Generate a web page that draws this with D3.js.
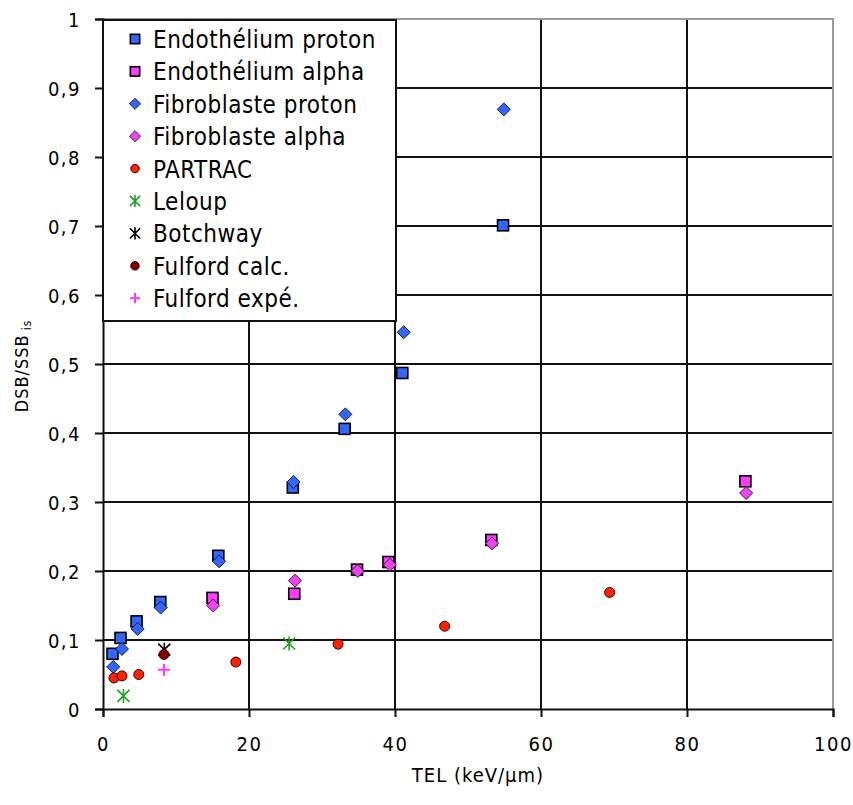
<!DOCTYPE html>
<html>
<head>
<meta charset="utf-8">
<script src="https://cdn.jsdelivr.net/npm/d3@7"></script>
<style>
  html, body { margin: 0; padding: 0; background: #fff; }
  svg { display: block; }
  text { font-family: "DejaVu Sans Condensed", "DejaVu Sans", sans-serif; fill: #000; }
</style>
</head>
<body>
<svg id="chart" width="853" height="805"></svg>
<script>
// ---------- data ----------
const xTicks = [0, 20, 40, 60, 80, 100];
const yTicks = [0, 0.1, 0.2, 0.3, 0.4, 0.5, 0.6, 0.7, 0.8, 0.9, 1];
const yTickLabels = ["0", "0,1", "0,2", "0,3", "0,4", "0,5", "0,6", "0,7", "0,8", "0,9", "1"];
const xTickLabels = ["0", "20", "40", "60", "80", "100"];

const endoProtonX = [1.3, 2.4, 4.6, 7.85, 15.8, 26.0, 33.1, 41.0, 54.8];
const endoProtonY = [0.080, 0.103, 0.127, 0.155, 0.222, 0.321, 0.406, 0.487, 0.701];

const endoAlphaX = [15.0, 26.2, 34.8, 39.1, 53.2, 88.0];
const endoAlphaY = [0.161, 0.167, 0.202, 0.213, 0.245, 0.330];

const fibroProtonX = [1.4, 2.6, 4.75, 7.9, 15.9, 26.1, 33.2, 41.2, 54.9];
const fibroProtonY = [0.061, 0.087, 0.116, 0.147, 0.214, 0.329, 0.427, 0.546, 0.869];

const fibroAlphaX = [15.1, 26.3, 34.9, 39.3, 53.3, 88.1];
const fibroAlphaY = [0.150, 0.186, 0.200, 0.209, 0.240, 0.313];

const partracX = [1.5, 2.6, 4.9, 18.2, 32.2, 46.8, 69.4];
const partracY = [0.045, 0.048, 0.050, 0.068, 0.094, 0.120, 0.169];

const leloupX = [2.8, 25.5];
const leloupY = [0.019, 0.095];

const botchwayX = [8.4];
const botchwayY = [0.086];

const fulfordCalcX = [8.35];
const fulfordCalcY = [0.079];

const fulfordExpX = [8.35];
const fulfordExpY = [0.057];

const seriesNames = ["Endothélium proton", "Endothélium alpha", "Fibroblaste proton", "Fibroblaste alpha",
  "PARTRAC", "Leloup", "Botchway", "Fulford calc.", "Fulford expé."];

// ---------- styles ----------
const series = [
  { name: seriesNames[0], xs: endoProtonX, ys: endoProtonY, shape: "square", fill: "#3366ff", stroke: "#000" },
  { name: seriesNames[1], xs: endoAlphaX, ys: endoAlphaY, shape: "square", fill: "#ff3cff", stroke: "#000" },
  { name: seriesNames[2], xs: fibroProtonX, ys: fibroProtonY, shape: "diamond", fill: "#3366ff", stroke: "#1a1a40" },
  { name: seriesNames[3], xs: fibroAlphaX, ys: fibroAlphaY, shape: "diamond", fill: "#ee44ee", stroke: "#401a40" },
  { name: seriesNames[4], xs: partracX, ys: partracY, shape: "circle", fill: "#ff2200", stroke: "#300" },
  { name: seriesNames[5], xs: leloupX, ys: leloupY, shape: "star", fill: "none", stroke: "#22a022" },
  { name: seriesNames[6], xs: botchwayX, ys: botchwayY, shape: "star", fill: "none", stroke: "#000" },
  { name: seriesNames[7], xs: fulfordCalcX, ys: fulfordCalcY, shape: "circle", fill: "#800000", stroke: "#300" },
  { name: seriesNames[8], xs: fulfordExpX, ys: fulfordExpY, shape: "plus", fill: "none", stroke: "#ff33ff" }
];

const svg = d3.select("#chart");
const plot = { left: 103, right: 833, top: 19, bottom: 709 };

const x = d3.scaleLinear().domain([0, 100]).range([plot.left, plot.right]);
const y = d3.scaleLinear().domain([0, 1]).range([plot.bottom, plot.top]);

// grid
const grid = svg.append("g");
grid.selectAll("line.h").data(yTicks.filter(v => v > 0 && v < 1)).enter().append("line")
  .attr("x1", plot.left).attr("x2", plot.right)
  .attr("y1", d => y(d)).attr("y2", d => y(d))
  .attr("stroke", "#111").attr("stroke-width", 2);
grid.selectAll("line.v").data(xTicks.filter(v => v > 0 && v < 100)).enter().append("line")
  .attr("y1", plot.top).attr("y2", plot.bottom)
  .attr("x1", d => x(d)).attr("x2", d => x(d))
  .attr("stroke", "#111").attr("stroke-width", 2);

// plot border top/right (gray)
svg.append("path")
  .attr("d", `M${plot.left},${plot.top}H${plot.right}V${plot.bottom}`)
  .attr("fill", "none").attr("stroke", "#999").attr("stroke-width", 2);

// axes
const yAxis = d3.axisLeft(y).tickValues(yTicks).tickSize(8).tickFormat((d, i) => yTickLabels[i]);
const xAxis = d3.axisBottom(x).tickValues(xTicks).tickSize(8).tickFormat((d, i) => xTickLabels[i]);

const gy = svg.append("g").attr("transform", `translate(${plot.left},0)`).call(yAxis);
const gx = svg.append("g").attr("transform", `translate(0,${plot.bottom})`).call(xAxis);
[gx, gy].forEach(g => {
  g.select(".domain").attr("stroke", "#111").attr("stroke-width", 2);
  g.selectAll(".tick line").attr("stroke", "#111").attr("stroke-width", 2);
  g.selectAll(".tick text").attr("font-size", 20).attr("letter-spacing", 1.5)
    .attr("font-family", "'DejaVu Sans Condensed', 'DejaVu Sans', sans-serif").attr("fill", "#222");
});
gy.selectAll(".tick text").attr("x", -22).attr("dy", "0.36em");
gx.selectAll(".tick text").attr("y", 28).attr("dy", "0.71em");

// axis titles
svg.append("text").attr("x", (plot.left + plot.right) / 2 + 10).attr("y", 782)
  .attr("text-anchor", "middle").attr("font-size", 20).attr("letter-spacing", 1)
  .attr("fill", "#222").text("TEL (keV/µm)");

const yt = svg.append("text").attr("transform", `translate(28,366) rotate(-90)`)
  .attr("text-anchor", "middle").attr("font-size", 18).attr("letter-spacing", 1).attr("fill", "#222");
yt.append("tspan").text("DSB/SSB");
yt.append("tspan").attr("font-size", 12).attr("dx", 4).attr("dy", 3).text("is");

// marker drawing
function drawMarker(g, shape, fill, stroke, scale) {
  const s = scale || 1;
  if (shape === "square") {
    const h = 5.5 * s;
    g.append("rect").attr("x", -h).attr("y", -h).attr("width", 2 * h).attr("height", 2 * h)
      .attr("fill", fill).attr("stroke", stroke).attr("stroke-width", 1.6);
  } else if (shape === "diamond") {
    const h = 6.5 * s;
    g.append("path").attr("d", `M0,${-h}L${h},0L0,${h}L${-h},0Z`)
      .attr("fill", fill).attr("stroke", stroke).attr("stroke-width", 1);
  } else if (shape === "circle") {
    g.append("circle").attr("r", 5 * s).attr("fill", fill).attr("stroke", stroke).attr("stroke-width", 1);
  } else if (shape === "star") {
    const h = 6 * s;
    g.append("path").attr("d", `M${-h},${-h}L${h},${h}M${-h},${h}L${h},${-h}M0,${-h - 1}V${h + 1}`)
      .attr("fill", "none").attr("stroke", stroke).attr("stroke-width", 1.6);
  } else if (shape === "plus") {
    const h = 6 * s;
    g.append("path").attr("d", `M${-h},0H${h}M0,${-h}V${h}`)
      .attr("fill", "none").attr("stroke", stroke).attr("stroke-width", 2);
  }
}

// points
series.forEach(s => {
  const pts = s.xs.map((v, i) => [v, s.ys[i]]);
  const g = svg.append("g");
  g.selectAll("g").data(pts).enter().append("g")
    .attr("transform", d => `translate(${x(d[0])},${y(d[1])})`)
    .each(function () { drawMarker(d3.select(this), s.shape, s.fill, s.stroke, 1); });
});

// legend
const leg = svg.append("g");
leg.append("rect").attr("x", 103).attr("y", 20).attr("width", 293).attr("height", 301)
  .attr("fill", "#fff").attr("stroke", "#111").attr("stroke-width", 2);
series.forEach((s, i) => {
  const cy = 39 + i * 32.4;
  const g = leg.append("g").attr("transform", `translate(135,${cy})`);
  drawMarker(g, s.shape, s.fill, s.stroke, 0.85);
  leg.append("text").attr("x", 153).attr("y", cy + 9).attr("font-size", 24)
    .attr("letter-spacing", 0.5).attr("fill", "#111").text(s.name);
});
</script>
</body>
</html>
